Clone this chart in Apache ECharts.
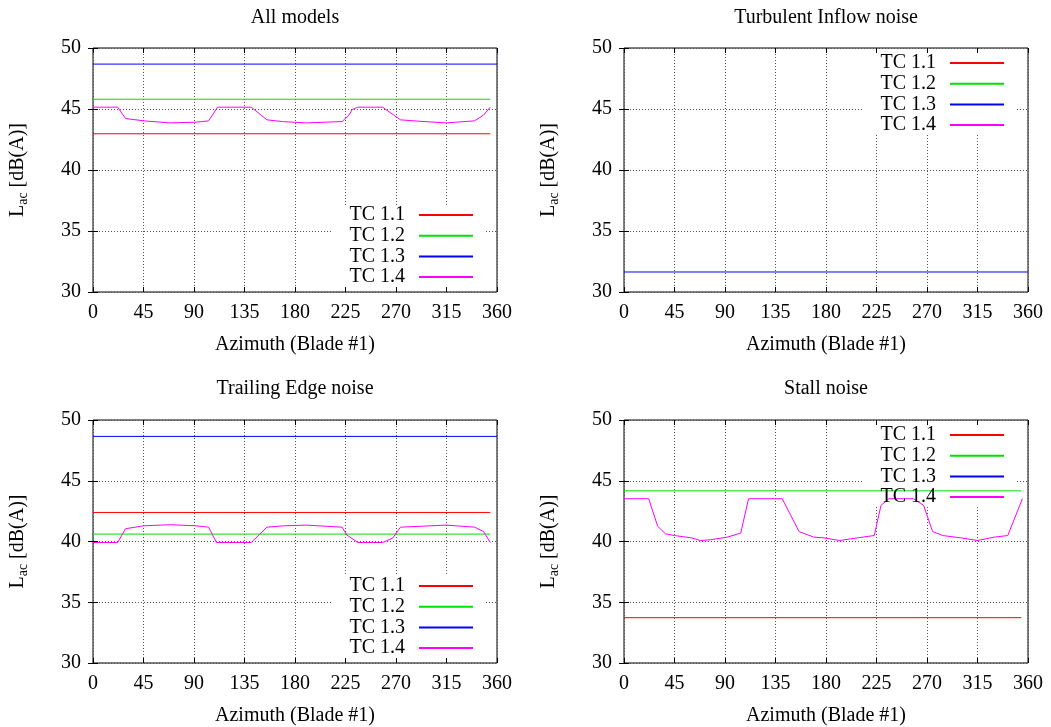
<!DOCTYPE html>
<html>
<head>
<meta charset="utf-8">
<title>Acoustic level vs azimuth</title>
<script src="https://cdn.jsdelivr.net/npm/echarts@6/dist/echarts.min.js"></script>
<style>
  html, body { margin: 0; padding: 0; background: #fff; }
  #chart { width: 1051px; height: 727px; }
</style>
</head>
<body>
<div id="chart"></div>
<script>
// ---- data -------------------------------------------------------------
const panelTitles = ['All models', 'Turbulent Inflow noise', 'Trailing Edge noise', 'Stall noise'];
const caseNames = ['TC 1.1', 'TC 1.2', 'TC 1.3', 'TC 1.4'];
const caseColors = ['#ff0000', '#00e000', '#0000ff', '#ff00ff'];

// azimuth range of the constant cases
const azFlat = [0, 354];
const azFull = [0, 360];

// constant levels per panel [All, Inflow, Trailing edge, Stall]; null = not drawn
const levelTC11 = [42.97, null, 42.39, 33.73];
const levelTC12 = [45.80, null, 40.61, 44.17];
const levelTC13 = [48.68, 31.64, 48.65, null];

// TC 1.4 (yawed case): level over one revolution
const allAz    = [0, 22, 29, 45, 69, 92, 103, 111, 141, 155, 169, 190, 222, 228, 231, 236, 258, 274, 295, 315, 340, 348, 354];
const allTC14  = [45.15, 45.15, 44.22, 44.03, 43.86, 43.92, 44.03, 45.15, 45.15, 44.11, 43.97, 43.86, 43.97, 44.5, 44.95, 45.15, 45.15, 44.11, 43.97, 43.86, 44.03, 44.5, 45.15];

const teAz     = [0, 22, 29, 45, 69, 92, 103, 110, 141, 155, 170, 190, 222, 226, 236, 258, 267, 274, 315, 340, 348, 354];
const teTC14   = [39.92, 39.92, 41.05, 41.29, 41.38, 41.29, 41.18, 39.92, 39.92, 41.18, 41.29, 41.35, 41.18, 40.55, 39.92, 39.92, 40.28, 41.18, 41.35, 41.18, 40.82, 39.92];

const stallAz  = [0, 22, 30, 37, 45, 60, 68, 77, 92, 104, 111, 141, 156, 169, 178, 192, 208, 223, 229, 236, 258, 267, 275, 284, 300, 315, 330, 342, 355];
const stallTC14 = [43.52, 43.52, 41.26, 40.63, 40.49, 40.30, 40.08, 40.14, 40.36, 40.69, 43.52, 43.52, 40.82, 40.36, 40.30, 40.08, 40.30, 40.49, 42.97, 43.52, 43.52, 42.97, 40.82, 40.49, 40.30, 40.08, 40.36, 40.49, 43.52];

const tc14Az     = [allAz, null, teAz, stallAz];
const tc14Levels = [allTC14, null, teTC14, stallTC14];

// ---- layout -----------------------------------------------------------
const FONT = 'Liberation Serif, Times New Roman, serif';
const FS = 20;
const plots = [
  { left: 93,  top: 48,  width: 404, height: 244, titleTop: 8,   legendRight: 578, legendTop: 205, box: [332, 205, 153, 82] },
  { left: 624, top: 48,  width: 404, height: 244, titleTop: 8,   legendRight: 47,  legendTop: 53,  box: [864, 53, 152, 82] },
  { left: 93,  top: 420, width: 404, height: 243, titleTop: 379, legendRight: 578, legendTop: 576, box: [332, 576, 153, 82] },
  { left: 624, top: 420, width: 404, height: 243, titleTop: 379, legendRight: 47,  legendTop: 425, box: [864, 425, 152, 82] }
];

const txt = { fontFamily: FONT, fontSize: FS, color: '#000' };

const grids = [], xAxes = [], yAxes = [], titles = [], legends = [], series = [], boxes = [];

plots.forEach((p, i) => {
  grids.push({ left: p.left, top: p.top, width: p.width, height: p.height,
               show: true, borderColor: '#000', borderWidth: 1, backgroundColor: 'transparent' });

  titles.push({ text: panelTitles[i], left: p.left + p.width / 2, top: p.titleTop, textAlign: 'center',
                padding: 0, textStyle: Object.assign({ fontWeight: 'normal' }, txt) });

  // main axes
  xAxes.push({
    type: 'value', gridIndex: i, min: 0, max: 360, interval: 45, position: 'bottom',
    name: 'Azimuth (Blade #1)', nameLocation: 'middle', nameGap: 43, nameTextStyle: txt,
    axisLine: { show: false },
    axisTick: { show: true, inside: true, length: 5, lineStyle: { color: '#000' } },
    axisLabel: Object.assign({ margin: 11 }, txt),
    splitLine: { show: true, lineStyle: { type: [1, 2], color: '#555', width: 1 } }
  });
  yAxes.push({
    type: 'value', gridIndex: i, min: 30, max: 50, interval: 5, position: 'left',
    name: '{l|L}{s|ac}{l| [dB(A)]}', nameLocation: 'middle', nameGap: 63, nameRotate: 90,
    nameTextStyle: {
      rich: {
        l: { fontFamily: FONT, fontSize: FS, color: '#000', lineHeight: 24, verticalAlign: 'middle' },
        s: { fontFamily: FONT, fontSize: 14, color: '#000', lineHeight: 14, verticalAlign: 'bottom' }
      }
    },
    axisLine: { show: false },
    axisTick: { show: true, inside: true, length: 5, lineStyle: { color: '#000' } },
    axisLabel: Object.assign({ margin: 12 }, txt),
    splitLine: { show: true, lineStyle: { type: [1, 2], color: '#555', width: 1 } }
  });

  legends.push({
    data: caseNames, orient: 'vertical', right: p.legendRight, top: p.legendTop,
    align: 'right', padding: 0, itemGap: 0.7, itemWidth: 54, itemHeight: 2, icon: 'rect',
    selectedMode: false,
    textStyle: { fontFamily: FONT, fontSize: FS, color: '#000', lineHeight: 20, padding: [0, 9, 0, 0] }
  });

  boxes.push({ type: 'rect', z: 1, silent: true,
               shape: { x: p.box[0], y: p.box[1], width: p.box[2], height: p.box[3] },
               style: { fill: '#fff' } });

  const levels = [levelTC11[i], levelTC12[i], levelTC13[i]];
  levels.forEach((v, k) => {
    const az = k === 2 ? azFull : azFlat;
    series.push({
      name: caseNames[k], type: 'line', xAxisIndex: i, yAxisIndex: i,
      data: v === null ? [] : az.map(a => [a, v]),
      showSymbol: false, silent: true, clip: true, z: 2,
      itemStyle: { color: caseColors[k] },
      lineStyle: { color: caseColors[k], width: 1 }
    });
  });
  const az14 = tc14Az[i], lv14 = tc14Levels[i];
  series.push({
    name: caseNames[3], type: 'line', xAxisIndex: i, yAxisIndex: i,
    data: lv14 === null ? [] : az14.map((a, j) => [a, lv14[j]]),
    showSymbol: false, silent: true, clip: true, z: 2,
    itemStyle: { color: caseColors[3] },
    lineStyle: { color: caseColors[3], width: 1 }
  });
});

// mirrored tick marks on the top and right borders
plots.forEach((p, i) => {
  xAxes.push({
    type: 'value', gridIndex: i, min: 0, max: 360, interval: 45, position: 'top',
    axisLine: { show: false }, axisLabel: { show: false }, splitLine: { show: false },
    axisTick: { show: true, inside: true, length: 5, lineStyle: { color: '#000' } }
  });
  yAxes.push({
    type: 'value', gridIndex: i, min: 30, max: 50, interval: 5, position: 'right',
    axisLine: { show: false }, axisLabel: { show: false }, splitLine: { show: false },
    axisTick: { show: true, inside: true, length: 5, lineStyle: { color: '#000' } }
  });
});

const chart = echarts.init(document.getElementById('chart'), null, { renderer: 'canvas' });
chart.setOption({
  animation: false,
  backgroundColor: '#fff',
  title: titles,
  grid: grids,
  xAxis: xAxes,
  yAxis: yAxes,
  legend: legends,
  graphic: boxes,
  series: series
});
</script>
</body>
</html>
